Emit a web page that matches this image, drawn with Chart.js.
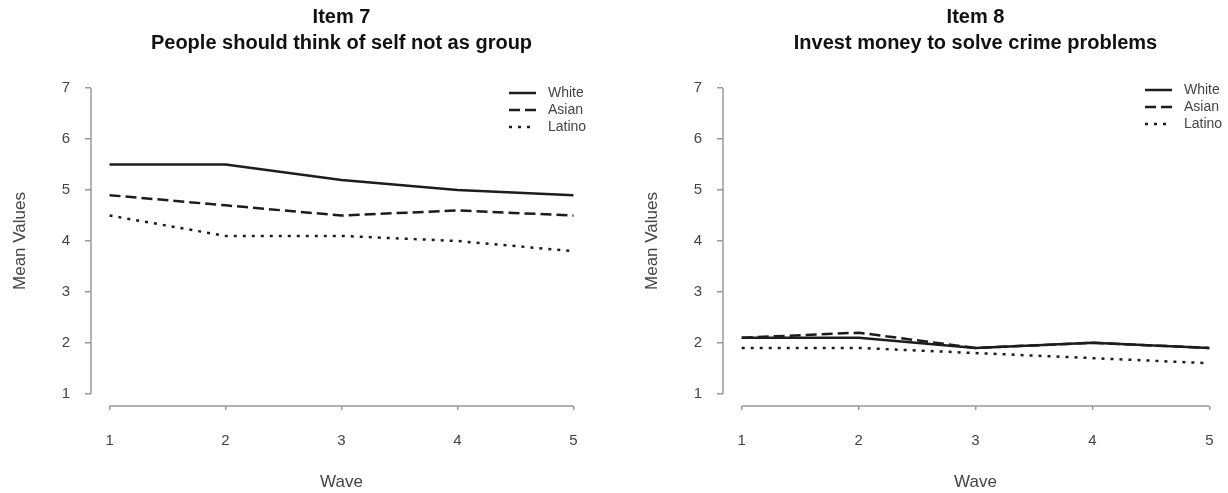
<!DOCTYPE html>
<html>
<head>
<meta charset="utf-8">
<script src="https://cdn.jsdelivr.net/npm/chart.js@4.4.1/dist/chart.umd.min.js"></script>
<style>
    html, body { margin: 0; padding: 0; background: #fff; }
    .panel { position: absolute; top: 0; width: 614px; height: 493px; }
    #panel-left { left: 0; }
    #panel-right { left: 614px; }
</style>
</head>
<body>
<div class="panel" id="panel-left"><canvas id="item7-chart" width="614" height="493"></canvas></div>
<div class="panel" id="panel-right"><canvas id="item8-chart" width="614" height="493"></canvas></div>
<script>
    'use strict';

    // Data
    const waves = [1, 2, 3, 4, 5];
    const meanTicks = [1, 2, 3, 4, 5, 6, 7];
    const groups = ['White', 'Asian', 'Latino'];

    const item7Title = ['Item 7', 'People should think of self not as group'];
    const item7White = [5.5, 5.5, 5.2, 5.0, 4.9];
    const item7Asian = [4.9, 4.7, 4.5, 4.6, 4.5];
    const item7Latino = [4.5, 4.1, 4.1, 4.0, 3.8];

    const item8Title = ['Item 8', 'Invest money to solve crime problems'];
    const item8White = [2.1, 2.1, 1.9, 2.0, 1.9];
    const item8Asian = [2.1, 2.2, 1.9, 2.0, 1.9];
    const item8Latino = [1.9, 1.9, 1.8, 1.7, 1.6];

    // Styles
    const FONT = '"Liberation Sans", Arial, Helvetica, sans-serif';
    const lineColor = '#1c1c1c';
    const axisColor = '#999999';
    const textColor = '#444444';
    const lineDashes = [[], [11, 5], [3, 6]];

    Chart.defaults.font.family = FONT;

    // R-style axis lines that only span the first to last tick
    const rAxes = {
        id: 'rAxes',
        afterDraw(chart) {
            const {ctx, chartArea, scales} = chart;
            const x = scales.x, y = scales.y;
            ctx.save();
            ctx.strokeStyle = axisColor;
            ctx.lineWidth = 1.5;
            ctx.beginPath();
            ctx.moveTo(chartArea.left, y.getPixelForValue(meanTicks[0]));
            ctx.lineTo(chartArea.left, y.getPixelForValue(meanTicks[meanTicks.length - 1]));
            ctx.moveTo(x.getPixelForValue(waves[0]), chartArea.bottom);
            ctx.lineTo(x.getPixelForValue(waves[waves.length - 1]), chartArea.bottom);
            ctx.stroke();
            ctx.restore();
        }
    };

    // Line-sample legend in the top right corner of the plot
    const lineKey = {
        id: 'lineKey',
        afterDatasetsDraw(chart, args, opts) {
            const {ctx, chartArea} = chart;
            ctx.save();
            chart.data.datasets.forEach((ds, i) => {
                const y = chartArea.top + opts.top + i * 17;
                const x0 = chartArea.right - 83;
                ctx.beginPath();
                ctx.setLineDash(ds.borderDash || []);
                ctx.strokeStyle = ds.borderColor;
                ctx.lineWidth = ds.borderWidth;
                ctx.moveTo(x0, y);
                ctx.lineTo(x0 + 27, y);
                ctx.stroke();
                ctx.setLineDash([]);
                ctx.fillStyle = textColor;
                ctx.font = '14px ' + FONT;
                ctx.textBaseline = 'middle';
                ctx.textAlign = 'left';
                ctx.fillText(ds.label, x0 + 39, y);
            });
            ctx.restore();
        }
    };

    function createItemChart(canvasId, title, series, cfg) {
        const ctx = document.getElementById(canvasId);

        return new Chart(ctx, {
            type: 'line',
            data: {
                datasets: groups.map((group, i) => ({
                    label: group,
                    data: waves.map((w, j) => ({x: w, y: series[i][j]})),
                    borderColor: lineColor,
                    borderWidth: 2.5,
                    borderDash: lineDashes[i],
                    borderJoinStyle: 'round',
                    pointRadius: 0,
                    tension: 0,
                    fill: false
                }))
            },
            options: {
                responsive: false,
                animation: false,
                layout: {
                    autoPadding: false,
                    padding: {left: 0, right: cfg.padRight, top: 0, bottom: 0}
                },
                plugins: {
                    legend: {display: false},
                    tooltip: {enabled: false},
                    title: {
                        display: true,
                        text: title,
                        fullSize: false,
                        color: '#111111',
                        font: {size: 20, weight: 'bold', lineHeight: '26px'},
                        padding: {top: 4, bottom: 20}
                    },
                    lineKey: {top: cfg.keyTop}
                },
                scales: {
                    x: {
                        type: 'linear',
                        min: 0.84,
                        max: 5.16,
                        afterBuildTicks: scale => {
                            scale.ticks = waves.map(v => ({value: v}));
                        },
                        afterFit: scale => {
                            scale.height = 87;
                        },
                        border: {display: false},
                        grid: {
                            drawOnChartArea: false,
                            tickLength: 4,
                            color: axisColor,
                            lineWidth: 1.5
                        },
                        ticks: {
                            padding: 4,
                            color: textColor,
                            maxRotation: 0,
                            font: {size: 15, lineHeight: '54px'}
                        },
                        title: {
                            display: true,
                            text: 'Wave',
                            color: textColor,
                            font: {size: 17},
                            padding: {top: 0, bottom: 0}
                        }
                    },
                    y: {
                        type: 'linear',
                        min: 0.76,
                        max: 7.24,
                        afterBuildTicks: scale => {
                            scale.ticks = meanTicks.map(v => ({value: v}));
                        },
                        afterFit: scale => {
                            scale.width = cfg.yWidth;
                        },
                        border: {display: false},
                        grid: {
                            drawOnChartArea: false,
                            tickLength: 6,
                            color: axisColor,
                            lineWidth: 1.5
                        },
                        ticks: {
                            padding: 15,
                            color: textColor,
                            font: {size: 15}
                        },
                        title: {
                            display: true,
                            text: 'Mean Values',
                            color: textColor,
                            font: {size: 17},
                            padding: {top: cfg.yTitlePad, bottom: 0}
                        }
                    }
                }
            },
            plugins: [rAxes, lineKey]
        });
    }

    createItemChart('item7-chart', item7Title, [item7White, item7Asian, item7Latino], {
        padRight: 22, yWidth: 91, yTitlePad: 10, keyTop: 17
    });

    createItemChart('item8-chart', item8Title, [item8White, item8Asian, item8Latino], {
        padRight: 0, yWidth: 109, yTitlePad: 28, keyTop: 14
    });
</script>
</body>
</html>
